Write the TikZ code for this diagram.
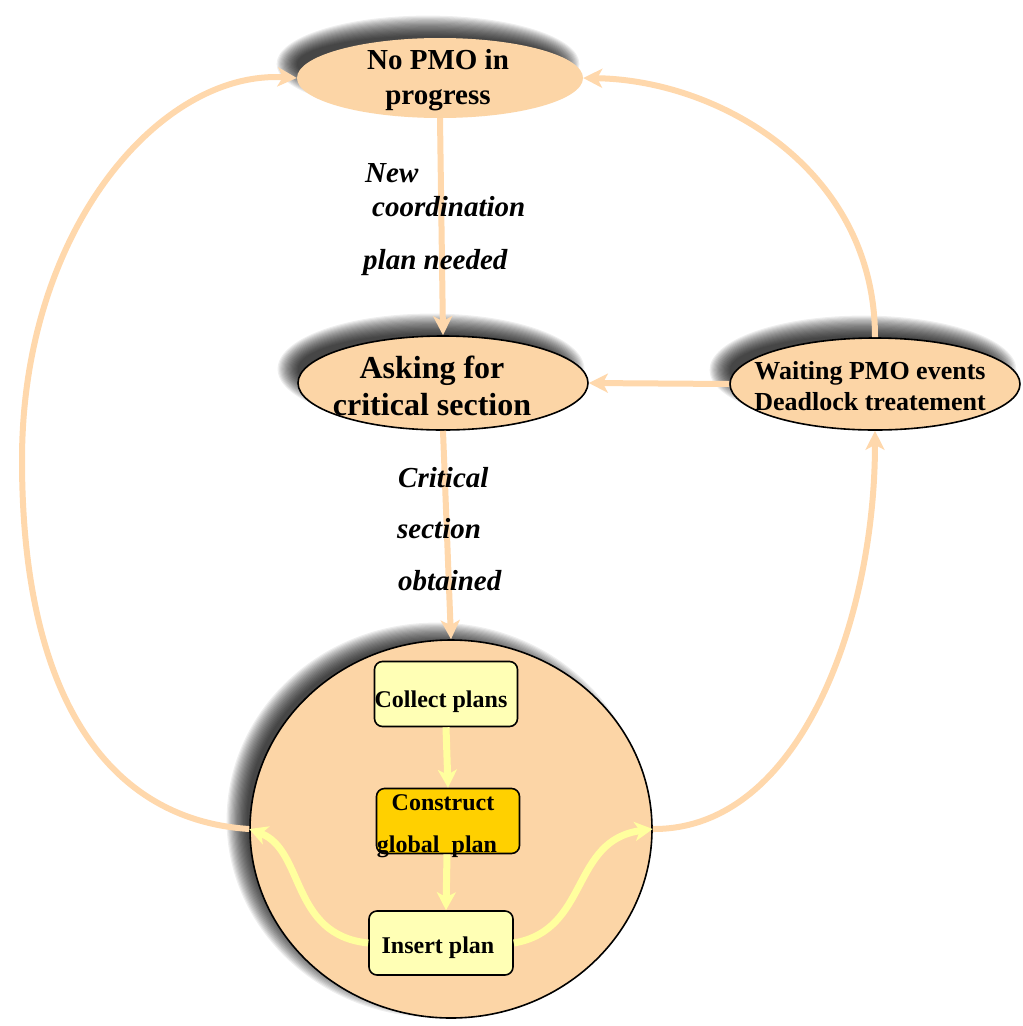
\documentclass[tikz,border=0pt]{standalone}
\usepackage{fontspec}
\setmainfont{Liberation Serif}
\usetikzlibrary{shapes.geometric,arrows.meta}
\definecolor{peach}{HTML}{FCD5A6}
\definecolor{peachline}{HTML}{FFD8AC}
\definecolor{paleyellow}{HTML}{FFFFB5}
\definecolor{gold}{HTML}{FFD000}
\definecolor{yellowline}{HTML}{FFFF9E}
% soft drop shadow: centre x, centre y, x radius, y radius, x offset, y offset
\newcommand\softshadow[6]{%
  \foreach \k in {0,...,17}{%
    \fill[black, opacity=0.065] ({#1+#5},{#2+#6})
      ellipse [x radius={(#3-12+1.2*\k)*1pt}, y radius={(#4-12+1.2*\k)*1pt}];
  }}
\begin{document}
\begin{tikzpicture}[x=1pt,y=-1pt,
  state/.style={ellipse, fill=peach, inner sep=0pt},
  outlined/.style={draw=black, line width=1.6pt},
  task/.style={rectangle, rounded corners=8pt, draw=black, line width=1.6pt,
    inner sep=0pt, minimum width=143pt, minimum height=65pt},
  flow/.style={draw=peachline, line width=6pt,
    -{Stealth[length=19pt,width=19pt,inset=5pt]}},
  innerflow/.style={draw=yellowline, line width=7pt,
    -{Stealth[length=18pt,width=19pt,inset=5pt]}},
  lbl/.style={font=\fontsize{29}{34}\selectfont\bfseries\itshape, inner sep=0pt},
  tasktext/.style={font=\fontsize{24}{28}\selectfont\bfseries, inner sep=0pt},
]
\useasboundingbox (0,0) rectangle (1023,1026);
\fill[white] (0,0) rectangle (1023,1026);

% shadows behind the states
\softshadow{440}{78}{143}{40}{-12}{-14}
\softshadow{443}{383}{145}{47}{-12}{-14}
\softshadow{875}{384}{145}{46}{-12}{-14}
\softshadow{451}{829}{201}{189}{-15}{-9}

% states
\node[state, minimum width=286pt, minimum height=80pt] (nopmo) at (440,78) {};
\node[state, outlined, minimum width=290pt, minimum height=94pt] (ask) at (443,383) {};
\node[state, outlined, minimum width=290pt, minimum height=92pt] (wait) at (875,384) {};
\node[state, outlined, minimum width=402pt, minimum height=378pt] (crit) at (451,829) {};

% transitions between states
\draw[flow] (nopmo.south) -- (ask.north);
\draw[flow] (ask.south) -- (crit.north);
\draw[flow] (wait.west) -- (ask.east);
\draw[flow] (wait.north) .. controls (875,170) and (720,80) .. (nopmo.east);
\draw[flow] (crit.east) .. controls (800,830) and (875,620) .. (wait.south);
\draw[flow] (crit.west) .. controls (110,820) and (22,700) .. (22,460)
                        .. controls (22,230) and (160,70) .. (nopmo.west);

% state texts
\node[font=\fontsize{29}{35}\selectfont\bfseries, align=center, inner sep=0pt] (nopmotxt) at (438,80) {No PMO in\\progress};
\node[font=\fontsize{32}{37}\selectfont\bfseries, align=center, inner sep=0pt] (asktxt) at (432,386) {Asking for\\critical section};
\node[font=\fontsize{26}{31}\selectfont\bfseries, align=center, inner sep=0pt] (waittxt) at (870,386) {Waiting PMO events\\Deadlock treatement};

% transition labels
\node[lbl, anchor=base west] (l1) at (365,182) {New};
\node[lbl, anchor=base west] (l2) at (372,216) {coordination};
\node[lbl, anchor=base west] (l3) at (363,269) {plan needed};
\node[lbl, anchor=base west] (l4) at (398,487) {Critical};
\node[lbl, anchor=base west] (l5) at (397,538) {section};
\node[lbl, anchor=base west] (l6) at (398,590) {obtained};

% tasks inside the critical section
\node[task, fill=paleyellow] (collect) at (446,694) {};
\node[task, fill=gold] (construct) at (448,821) {};
\node[task, fill=paleyellow, minimum width=144pt, minimum height=64pt] (insert) at (441,943) {};

\draw[innerflow] (collect.south) -- (construct.north);
\draw[innerflow] ([xshift=-1pt]construct.south) -- ([xshift=5pt]insert.north);
\draw[innerflow] (insert.west) .. controls (290,935) and (305,850) .. (crit.west);
\draw[innerflow] (insert.east) .. controls (590,930) and (570,840) .. (crit.east);

\node[tasktext, anchor=base] (collecttxt) at (441,707) {Collect plans};
\node[tasktext, anchor=base] (constructtxt1) at (443,810) {Construct};
\node[tasktext, anchor=base] (constructtxt2) at (437,852) {global\ \ plan};
\node[tasktext, anchor=base] (inserttxt) at (438,953) {Insert plan};
\end{tikzpicture}
\end{document}
